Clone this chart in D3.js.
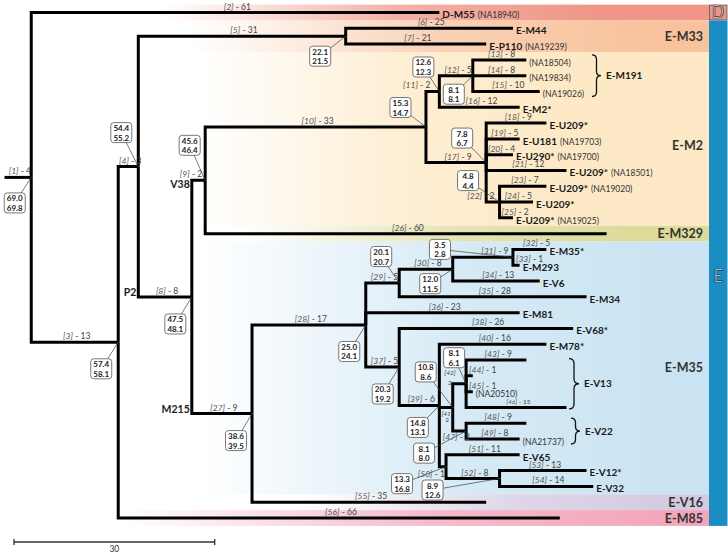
<!DOCTYPE html>
<html><head><meta charset="utf-8">
<script src="https://cdn.jsdelivr.net/npm/d3@7"></script>
<style>body{margin:0;background:#fff}svg{display:block;font-family:Lato,'Open Sans',sans-serif}</style>
</head><body>
<svg id="c" width="728" height="555"></svg>
<script>
// ---------------- DATA ----------------
const branchId  = [1,2,3,4,5,6,7,8,9,10,11,12,13,14,15,16,17,18,19,20,21,22,23,24,25,26,27,28,29,30,31,32,33,34,35,36,37,38,39,40,41,42,43,44,45,46,47,48,49,50,51,52,53,54,55,56];
const parentId  = [0,1,1,3,4,5,5,4,8,9,10,11,12,12,12,11,10,17,17,17,17,17,22,22,22,9,8,27,28,29,30,31,31,30,29,28,28,37,37,39,39,41,42,42,42,42,41,47,47,39,50,50,52,52,27,3];
const branchLen = [4,61,13,3,31,25,21,8,2,33,2,5,8,8,10,12,9,9,5,4,12,2,7,5,2,60,9,17,5,8,9,5,1,13,28,23,5,26,6,16,2,2,9,1,1,15,2,9,8,1,11,8,13,14,35,66];

const leafName = ["D-M55","E-M44","E-P110","","","","E-M2*","E-U209*","E-U181","E-U290*","E-U209*","E-U209*","E-U209*","E-U209*","","E-M35*","E-M293","E-V6","E-M34","E-M81","E-V68*","E-M78*","","","","","","","E-V65","E-V12*","E-V32","",""];
const leafSample = ["(NA18940)","","(NA19239)","(NA18504)","(NA19834)","(NA19026)","","","(NA19703)","(NA19700)","(NA18501)","(NA19020)","","(NA19025)","","","","","","","","","","","(NA20510)","","","(NA21737)","","","","",""];

const supportNode = [1,4,9,5,11,12,10,17,22,31,29,30,28,37,41,39,42,47,50,52,27,8,3];
const supportA = [69.0,54.4,45.6,22.1,12.6,8.1,15.3,7.8,4.8,3.5,20.1,12.0,25.0,20.3,10.8,14.8,8.1,8.1,13.3,8.9,38.6,47.5,57.4];
const supportB = [69.8,55.2,46.4,21.5,12.3,8.1,14.7,6.7,4.4,2.8,20.7,11.5,24.1,19.2,8.6,13.1,6.1,8.0,16.8,12.6,39.5,48.1,58.1];

const markerNode = [9,8,27];
const markerName = ["V38","P2","M215"];

const bandName  = ["D","E-M33","E-M2","E-M329","E-M35","E-V16","E-M85"];
const bandFirst = [0,1,3,14,15,31,32];
const bandLast  = [0,2,13,14,30,31,32];

const cladeName  = ["E-M191","E-V13","E-V22"];
const cladeFirst = [3,22,26];
const cladeLast  = [5,25,27];

const scaleBarValue = 30;

// ---------------- LAYOUT / STYLE ----------------
const bandStyle = [
  {c:"#ef9686", x0:160, x1:600},
  {c:"#f8c29d", x0:190, x1:650},
  {c:"#fde9c6", x0:200, x1:560},
  {c:"#dddA9b", x0:240, x1:640},
  {c:"#c9e3f2", x0:200, x1:680},
  {c:"#d3c9e0", x0:300, x1:690},
  {c:"#f2a5bb", x0:120, x1:680}
];
const bandLabelDy = {2:7};
const boxOffset = {1:[-16.5,25.5],4:[-17,-34],9:[-15.5,-35],5:[-25.5,20],11:[-16,-24.5],12:[-19,18.5],10:[-25.5,-19.5],17:[-24,-24.5],22:[-31.5,-21.5],31:[-73,-8],29:[-18,-26.5],30:[-22.5,14.5],28:[-16.5,26.5],37:[-16.5,27],41:[-27,-35.5],39:[-21.5,22],42:[-12,-26],47:[-42,22],50:[-44,17],52:[-67,11.5],27:[-16,27],8:[-16.5,27],3:[-17,26.5]};
const labelRule = {
  9:{a:"end",ref:"end",dx:-3}, 11:{a:"end",ref:"end",dx:-9}, 22:{a:"end",ref:"end",dx:-5},
  25:{a:"start",ref:"start",dx:2}, 33:{a:"start",ref:"start",dx:3},
  44:{a:"start",ref:"start",dx:3}, 45:{a:"start",ref:"start",dx:3},
  31:{a:"middle",ref:"mid",dx:12}, 32:{a:"middle",ref:"mid",dx:7},
  50:{a:"end",ref:"end",dx:-1,dy:10}, 47:{a:"middle",ref:"mid",dx:-3,dy:9},
  46:{small:true}
};
const stackRule = {41:{dx:1,dy1:9,dy2:15}, 42:{dx:-9.5,dy1:-9,dy2:1}};
const markerPos = {9:{dx:-2,dy:8}, 8:{dx:-2,dy:-1}, 27:{dx:-2,dy:-1}};
const braceX = [592,569,571], braceW = [9,10,9], bracePad = [5,1.5,5];

// ---------------- BUILD ----------------
const svg = d3.select("#c");
const rows = branchId.map((id,i)=>({id:String(id), parentId:String(parentId[i]), len:branchLen[i]}));
rows.unshift({id:"0", parentId:null, len:0});
const root = d3.stratify().id(d=>d.id).parentId(d=>d.parentId)(rows);
root.eachBefore(n=>{ n.dist = n.parent ? n.parent.dist + n.data.len : 0; });
const maxD = d3.max(root.leaves(), d=>d.dist);
const x = d3.scaleLinear().domain([0, maxD]).range([4.5, 4.5 + maxD*6.69]);
const leaves = root.leaves();
const y = d3.scalePoint().domain(leaves.map(d=>d.id)).range([12.5, 518]);
leaves.forEach(l=>l.yPos = y(l.id));
root.eachAfter(n=>{ if(n.children) n.yPos = (n.children[0].yPos + n.children[n.children.length-1].yPos)/2; });
const node = {}; root.each(n=>node[n.id]=n);
const step = y.step();

// defs / bands
const defs = svg.append("defs");
bandName.forEach((b,i)=>{
  const s = bandStyle[i];
  const gr = defs.append("linearGradient").attr("id","bg"+i).attr("gradientUnits","userSpaceOnUse")
    .attr("x1",s.x0).attr("x2",s.x1).attr("y1",0).attr("y2",0);
  gr.append("stop").attr("offset",0).attr("stop-color",s.c).attr("stop-opacity",0);
  gr.append("stop").attr("offset",0.55).attr("stop-color",s.c).attr("stop-opacity",0.75);
  gr.append("stop").attr("offset",1).attr("stop-color",s.c).attr("stop-opacity",1);
  const y0 = y(leaves[bandFirst[i]].id) - step/2, y1 = y(leaves[bandLast[i]].id) + step/2;
  svg.append("rect").attr("x",0).attr("y",y0).attr("width",709).attr("height",y1-y0).attr("fill","url(#bg"+i+")");
  if(i===0){
    svg.append("rect").attr("x",709.5).attr("y",y0+0.5).attr("width",17.5).attr("height",y1-y0-1)
      .attr("fill",s.c).attr("stroke","#555").attr("stroke-width",0.8);
    svg.append("text").attr("x",718).attr("y",(y0+y1)/2).attr("dy","0.36em").attr("text-anchor","middle")
      .attr("font-size",16.5).attr("fill","#fbe0da").attr("stroke","#333").attr("stroke-width",0.7).text(b);
  } else {
    svg.append("text").attr("x",703).attr("y",(y0+y1)/2 + (bandLabelDy[i]||0)).attr("dy","0.36em")
      .attr("text-anchor","end").attr("font-size",12.5).attr("font-weight",700).attr("fill","#333").text(b);
  }
});
// E bar
{
  const y0 = y(leaves[bandFirst[1]].id) - step/2, y1 = y(leaves[bandLast[6]].id) + step/2;
  svg.append("rect").attr("x",709).attr("y",y0).attr("width",18.5).attr("height",y1-y0).attr("fill","#1a8ec2");
  svg.append("text").attr("x",718.5).attr("y",276).attr("dy","0.36em").attr("text-anchor","middle")
    .attr("font-size",17).attr("fill","#d8eef9").attr("stroke","#0d3550").attr("stroke-width",0.7).text("E");
}

// tree branches
const tree = svg.append("g").attr("fill","none").attr("stroke","#000").attr("stroke-width",3).attr("stroke-linejoin","miter");
root.descendants().filter(n=>n.parent).forEach(n=>{
  tree.append("path").attr("d",`M${x(n.parent.dist)},${n.parent.yPos}V${n.yPos}H${x(n.dist)}`);
});

// branch labels
const bl = svg.append("g").attr("fill","#444").attr("font-size",8.5);
root.descendants().filter(n=>n.parent).forEach(n=>{
  const id = +n.id, xs = x(n.parent.dist), xe = x(n.dist);
  if(stackRule[id]){
    const r = stackRule[id], cx = (xs+xe)/2 + r.dx;
    bl.append("text").attr("x",cx).attr("y",n.yPos+r.dy1).attr("text-anchor","middle").attr("font-size",6.5).attr("font-style","italic").text("["+id+"]");
    bl.append("text").attr("x",cx).attr("y",n.yPos+r.dy2).attr("text-anchor","middle").attr("font-size",6.5).text(n.data.len);
    return;
  }
  const r = labelRule[id] || {};
  let lx, anchor = r.a || "middle";
  if(r.ref==="end") lx = xe + r.dx; else if(r.ref==="start") lx = xs + r.dx; else lx = (xs+xe)/2 + (r.dx!==undefined ? r.dx : 2);
  const t = bl.append("text").attr("x",lx).attr("y",n.yPos + (r.dy!==undefined ? r.dy : -3)).attr("text-anchor",anchor);
  if(r.small) t.attr("font-size",6.5);
  t.append("tspan").attr("font-style","italic").attr("fill","#555").text("["+id+"]");
  t.append("tspan").text(" - "+n.data.len);
});

// leaf labels
leaves.forEach((l,i)=>{
  if(!leafName[i] && !leafSample[i]) return;
  const t = svg.append("text").attr("x",x(l.dist)+3).attr("y",l.yPos).attr("dy","0.36em").attr("fill","#1a1a1a");
  if(leafName[i]) t.append("tspan").attr("font-weight",700).attr("font-size",10).text(leafName[i]);
  if(leafSample[i]) t.append("tspan").attr("font-size",8.5).attr("fill","#333").attr("dx",leafName[i]?3:0).text(leafSample[i]);
});

// marker labels
markerNode.forEach((m,i)=>{
  const n = node[m], p = markerPos[m];
  svg.append("text").attr("x",x(n.parent.dist)+p.dx).attr("y",n.yPos+p.dy).attr("text-anchor","end")
    .attr("font-size",10.5).attr("font-weight",700).attr("fill","#222").text(markerName[i]);
});

// clade braces
cladeName.forEach((c,i)=>{
  const y1 = y(leaves[cladeFirst[i]].id) - bracePad[i], y2 = y(leaves[cladeLast[i]].id) + bracePad[i];
  const bx = braceX[i], w = braceW[i], h = w/2, ym = (y1+y2)/2;
  svg.append("path").attr("fill","none").attr("stroke","#111").attr("stroke-width",1.3)
    .attr("d",`M${bx},${y1}Q${bx+h},${y1} ${bx+h},${y1+h}L${bx+h},${ym-h}Q${bx+h},${ym} ${bx+w},${ym}Q${bx+h},${ym} ${bx+h},${ym+h}L${bx+h},${y2-h}Q${bx+h},${y2} ${bx},${y2}`);
  svg.append("text").attr("x",bx+w+5).attr("y",ym).attr("dy","0.36em").attr("font-size",10).attr("font-weight",700).attr("fill","#1a1a1a").text(c);
});

// support boxes
const sb = svg.append("g");
supportNode.forEach((id,i)=>{
  const n = node[id], nx = x(n.dist), ny = n.yPos, o = boxOffset[id];
  const cx = nx + o[0], cy = ny + o[1];
  sb.append("line").attr("x1",cx).attr("y1",cy).attr("x2",nx).attr("y2",ny).attr("stroke","#444").attr("stroke-width",0.7);
});
supportNode.forEach((id,i)=>{
  const n = node[id], o = boxOffset[id];
  const cx = x(n.dist) + o[0], cy = n.yPos + o[1];
  sb.append("rect").attr("x",cx-10.5).attr("y",cy-10).attr("width",21).attr("height",20).attr("rx",3)
    .attr("fill","#fff").attr("stroke","#555").attr("stroke-width",0.8);
  sb.append("text").attr("x",cx).attr("y",cy-1.5).attr("text-anchor","middle").attr("font-size",8).attr("font-weight",700).attr("fill","#222").text(supportA[i].toFixed(1));
  sb.append("text").attr("x",cx).attr("y",cy+8).attr("text-anchor","middle").attr("font-size",8).attr("font-weight",700).attr("fill","#222").text(supportB[i].toFixed(1));
});

// scale bar
{
  const sx0 = 14, sx1 = sx0 + (x(scaleBarValue) - x(0)), sy = 542;
  const g = svg.append("g").attr("stroke","#333");
  g.append("line").attr("x1",sx0).attr("x2",sx1).attr("y1",sy).attr("y2",sy).attr("stroke-width",1.5);
  g.append("line").attr("x1",sx0).attr("x2",sx0).attr("y1",sy-3).attr("y2",sy+3).attr("stroke-width",1.3);
  g.append("line").attr("x1",sx1).attr("x2",sx1).attr("y1",sy-3).attr("y2",sy+3).attr("stroke-width",1.3);
  svg.append("text").attr("x",(sx0+sx1)/2).attr("y",552).attr("text-anchor","middle").attr("font-size",8.5).attr("fill","#333").text(scaleBarValue);
}
</script>
</body></html>
